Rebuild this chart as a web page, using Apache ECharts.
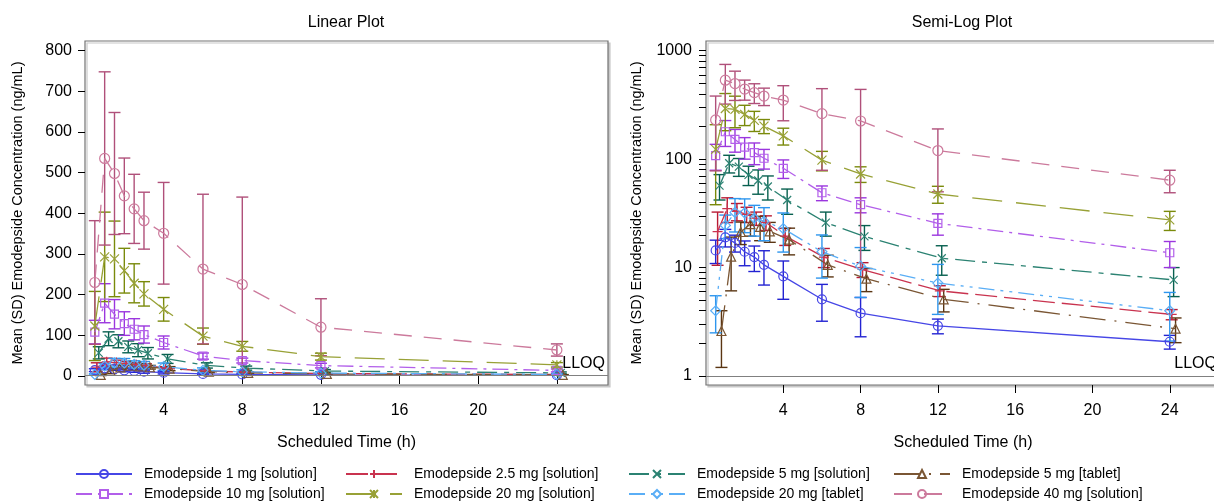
<!DOCTYPE html>
<html>
<head>
<meta charset="utf-8">
<script src="https://cdn.jsdelivr.net/npm/echarts@6/dist/echarts.min.js"></script>
<style>
html,body{margin:0;padding:0;background:#fff;}
#chart{width:1214px;height:504px;}
</style>
</head>
<body>
<div id="chart"></div>
<script>
// ---------------- data ----------------
const times = [0.5, 1, 1.5, 2, 2.5, 3, 4, 6, 8, 12, 24];
const seriesNames = [
  'Emodepside 1 mg [solution]',
  'Emodepside 2.5 mg [solution]',
  'Emodepside 5 mg [solution]',
  'Emodepside 5 mg [tablet]',
  'Emodepside 10 mg [solution]',
  'Emodepside 20 mg [solution]',
  'Emodepside 20 mg [tablet]',
  'Emodepside 40 mg [solution]'
];
// small time offsets (h) used in the original to separate groups
const timeOffset = [0, 0.1, 0.2, 0.3, 0, 0, 0, 0];

const mean_1mg   = [14.4, 19, 16.9, 14, 12.5, 10.6, 8.3, 5.1, 3.8, 2.9, 2.07];
const sd_1mg     = [3.5, 3.5, 3, 3.6, 3.3, 3.7, 3.2, 1.9, 1.5, 0.45, 0.3];
const mean_2p5mg = [21.5, 35, 33, 31, 28.5, 26, 19.5, 12.5, 9.6, 6.1, 3.7];
const sd_2p5mg   = [11, 9, 6, 5, 4, 4, 3.5, 2.5, 1.5, 0.7, 0.4];
const mean_5mg   = [57, 91.6, 85.4, 71.6, 63.5, 56, 42, 26, 19.4, 12.2, 7.7];
const sd_5mg     = [15, 17, 16, 14.5, 16, 14, 11, 6.5, 5, 3.7, 2.3];
const mean_5mgT  = [2.6, 12.6, 21.3, 25.2, 23.7, 21.6, 18.1, 10.6, 7.9, 5.1, 2.73];
const sd_5mgT    = [1.4, 6.5, 5, 5.7, 6, 4.5, 5, 2.4, 1.9, 1.2, 0.7];
const mean_10mg  = [108, 179, 152, 129, 115, 102, 82.4, 49, 38, 25.6, 13.7];
const sd_10mg    = [29, 48, 36, 29, 26, 21, 16, 7.6, 6, 5.7, 3.7];
const mean_20mg  = [123, 293, 288, 259, 228, 202, 164, 98, 73, 47.7, 27.5];
const sd_20mg    = [85, 110, 93, 55, 48, 30, 29, 20, 12, 8.5, 5.5];
const mean_20mgT = [4.0, 24.5, 32.3, 32, 28.5, 26.7, 22.9, 14, 10.3, 7.2, 4.0];
const sd_20mgT   = [1.5, 6, 11, 11, 9, 9, 9, 6, 5, 3.5, 1.9];
const mean_40mg  = [230, 535, 498, 443, 411, 382, 351, 263, 225, 120, 64];
const sd_40mg    = [152, 213, 150, 93, 85, 70, 125, 184, 215, 70, 15];

const means = [mean_1mg, mean_2p5mg, mean_5mg, mean_5mgT, mean_10mg, mean_20mg, mean_20mgT, mean_40mg];
const sds   = [sd_1mg, sd_2p5mg, sd_5mg, sd_5mgT, sd_10mg, sd_20mg, sd_20mgT, sd_40mg];

const LLOQ = 1;
const xTicks = [4, 8, 12, 16, 20, 24];
const yLinTicks = [0, 100, 200, 300, 400, 500, 600, 700, 800];
const yLogTicks = [1, 10, 100, 1000];
const yLogMinor = [1,2,3,4,5,6,7,8,9,10,20,30,40,50,60,70,80,90,100,200,300,400,500,600,700,800,900,1000];

// ---------------- styles ----------------
const lineColors = ['#4646E6', '#C9334F', '#2B8272', '#7A5634', '#B25FEA', '#98A136', '#5AAEF6', '#CC7A9C'];
const barColors  = ['#2323D2', '#B81a34', '#07604F', '#5A3512', '#9B36DE', '#7A8A0B', '#2E96EE', '#B0507A'];
const symbols = [
  'circle',
  'path://M5,0L5,10M0,5L10,5',
  'path://M0,0L10,10M10,0L0,10',
  'triangle',
  'rect',
  'path://M0,0L10,10M10,0L0,10M5,0L5,10',
  'diamond',
  'circle'
];
const symbolSizes = [9, 10, 8, 9, 8, 9, 10, 10];
const dashes = [
  'solid',
  [22, 7],
  [20, 7, 5, 7],
  [26, 9, 2, 9],
  [16, 6, 3, 6],
  [30, 14],
  [16, 6, 3, 6, 3, 6],
  [18, 12]
];

const FONT = 'Liberation Sans, Arial, Helvetica, sans-serif';

function errRender(colorIdx, isLog) {
  return function (params, api) {
    const x = api.value(0), m = api.value(1), s = api.value(2);
    let lo = m - s, hi = m + s;
    if (isLog && lo <= 0) lo = 0.5;
    const pHi = api.coord([x, hi]);
    const pLo = api.coord([x, lo]);
    const w = 6;
    const st = { stroke: barColors[colorIdx], lineWidth: 1.4 };
    return {
      type: 'group',
      children: [
        { type: 'line', shape: { x1: pHi[0], y1: pHi[1], x2: pLo[0], y2: pLo[1] }, style: st },
        { type: 'line', shape: { x1: pHi[0] - w, y1: pHi[1], x2: pHi[0] + w, y2: pHi[1] }, style: st },
        { type: 'line', shape: { x1: pLo[0] - w, y1: pLo[1], x2: pLo[0] + w, y2: pLo[1] }, style: st }
      ]
    };
  };
}

const lineSeries = [];
const errSeries = [];
[0, 1].forEach(function (g) {
  seriesNames.forEach(function (name, i) {
    const pts = times.map(function (t, k) { return [t + timeOffset[i], means[i][k]]; });
    const errs = times.map(function (t, k) { return [t + timeOffset[i], means[i][k], sds[i][k]]; });
    const s = {
      type: 'line',
      name: name,
      xAxisIndex: g,
      yAxisIndex: g,
      data: pts,
      symbol: symbols[i],
      symbolSize: symbolSizes[i],
      showAllSymbol: true,
      animation: false,
      z: 3,
      lineStyle: { color: lineColors[i], width: 1.3, type: dashes[i] },
      itemStyle: { color: 'rgba(255,255,255,0)', borderColor: lineColors[i], borderWidth: 1.2 }
    };
    if (i === 0) {
      s.markLine = {
        silent: true,
        symbol: 'none',
        animation: false,
        lineStyle: { color: '#808080', width: 1, type: 'solid' },
        label: {
          show: true, formatter: 'LLOQ', position: 'insideEndTop', distance: [3, 4],
          fontSize: 16, color: '#000', fontFamily: FONT
        },
        data: [{ yAxis: LLOQ }]
      };
    }
    lineSeries.push(s);
    errSeries.push({
      type: 'custom',
      name: name,
      xAxisIndex: g,
      yAxisIndex: g,
      data: errs,
      clip: true,
      z: 2,
      animation: false,
      renderItem: errRender(i, g === 1),
      encode: { x: 0, y: [1] }
    });
  });
});

const axisTextStyle = { color: '#000', fontSize: 16, fontFamily: FONT };

const gridCommon = {
  show: true,
  outerBoundsMode: 'none',
  containLabel: false,
  backgroundColor: '#fff',
  borderColor: '#727272',
  borderWidth: 1.2,
  shadowColor: '#c8c8c8',
  shadowOffsetX: 2,
  shadowOffsetY: 2,
  shadowBlur: 0
};

function xAxisDef(g) {
  return {
    type: 'value', gridIndex: g, min: 0, max: 26.6,
    name: 'Scheduled Time (h)', nameLocation: 'middle', nameGap: 50,
    nameTextStyle: { color: '#000', fontSize: 16, fontFamily: FONT },
    axisLine: { show: false },
    axisTick: { show: true, inside: false, length: 8, customValues: xTicks, lineStyle: { color: '#000', width: 1 } },
    axisLabel: { customValues: xTicks, margin: 18, ...axisTextStyle },
    splitLine: { show: false }
  };
}

const legendCols = [75, 345, 628, 893];
const legendRows = [467, 487];

const option = {
  backgroundColor: '#fff',
  animation: false,
  title: [
    { text: 'Linear Plot', left: 341, top: 10, textAlign: 'center',
      textStyle: { fontSize: 16, fontWeight: 'normal', color: '#000', fontFamily: FONT } },
    { text: 'Semi-Log Plot', left: 957, top: 10, textAlign: 'center',
      textStyle: { fontSize: 16, fontWeight: 'normal', color: '#000', fontFamily: FONT } }
  ],
  legend: seriesNames.map(function (name, i) {
    return {
      orient: 'horizontal',
      left: legendCols[i % 4],
      top: legendRows[Math.floor(i / 4)],
      padding: 0,
      itemWidth: 56,
      itemHeight: 10,
      selectedMode: false,
      data: [name],
      textStyle: { fontSize: 14, color: '#000', fontFamily: FONT, padding: [0, 0, 0, 7] }
    };
  }),
  grid: [
    Object.assign({ left: 85, top: 41, width: 523, height: 344 }, gridCommon),
    Object.assign({ left: 706, top: 41, width: 514, height: 344 }, gridCommon)
  ],
  xAxis: [xAxisDef(0), xAxisDef(1)],
  yAxis: [
    {
      type: 'value', gridIndex: 0, min: -22.1, max: 823.8,
      name: 'Mean (SD) Emodepside Concentration (ng/mL)', nameLocation: 'middle', nameGap: 60,
      nameTextStyle: { color: '#000', fontSize: 14.5, fontFamily: FONT },
      axisLine: { show: false },
      axisTick: { show: true, length: 7, customValues: yLinTicks, lineStyle: { color: '#000', width: 1 } },
      axisLabel: { customValues: yLinTicks, margin: 13, ...axisTextStyle },
      splitLine: { show: false }
    },
    {
      type: 'log', logBase: 10, gridIndex: 1, min: 0.826, max: 1230,
      name: 'Mean (SD) Emodepside Concentration (ng/mL)', nameLocation: 'middle', nameGap: 62,
      nameTextStyle: { color: '#000', fontSize: 14.5, fontFamily: FONT },
      axisLine: { show: false },
      axisTick: { show: true, length: 7, customValues: yLogMinor, lineStyle: { color: '#000', width: 1 } },
      axisLabel: { customValues: yLogTicks, margin: 14, formatter: function (v) { return String(Math.round(v)); }, ...axisTextStyle },
      splitLine: { show: false }
    }
  ],
  series: lineSeries.concat(errSeries)
};

const chart = echarts.init(document.getElementById('chart'), null, { renderer: 'canvas' });
chart.setOption(option);
</script>
</body>
</html>
